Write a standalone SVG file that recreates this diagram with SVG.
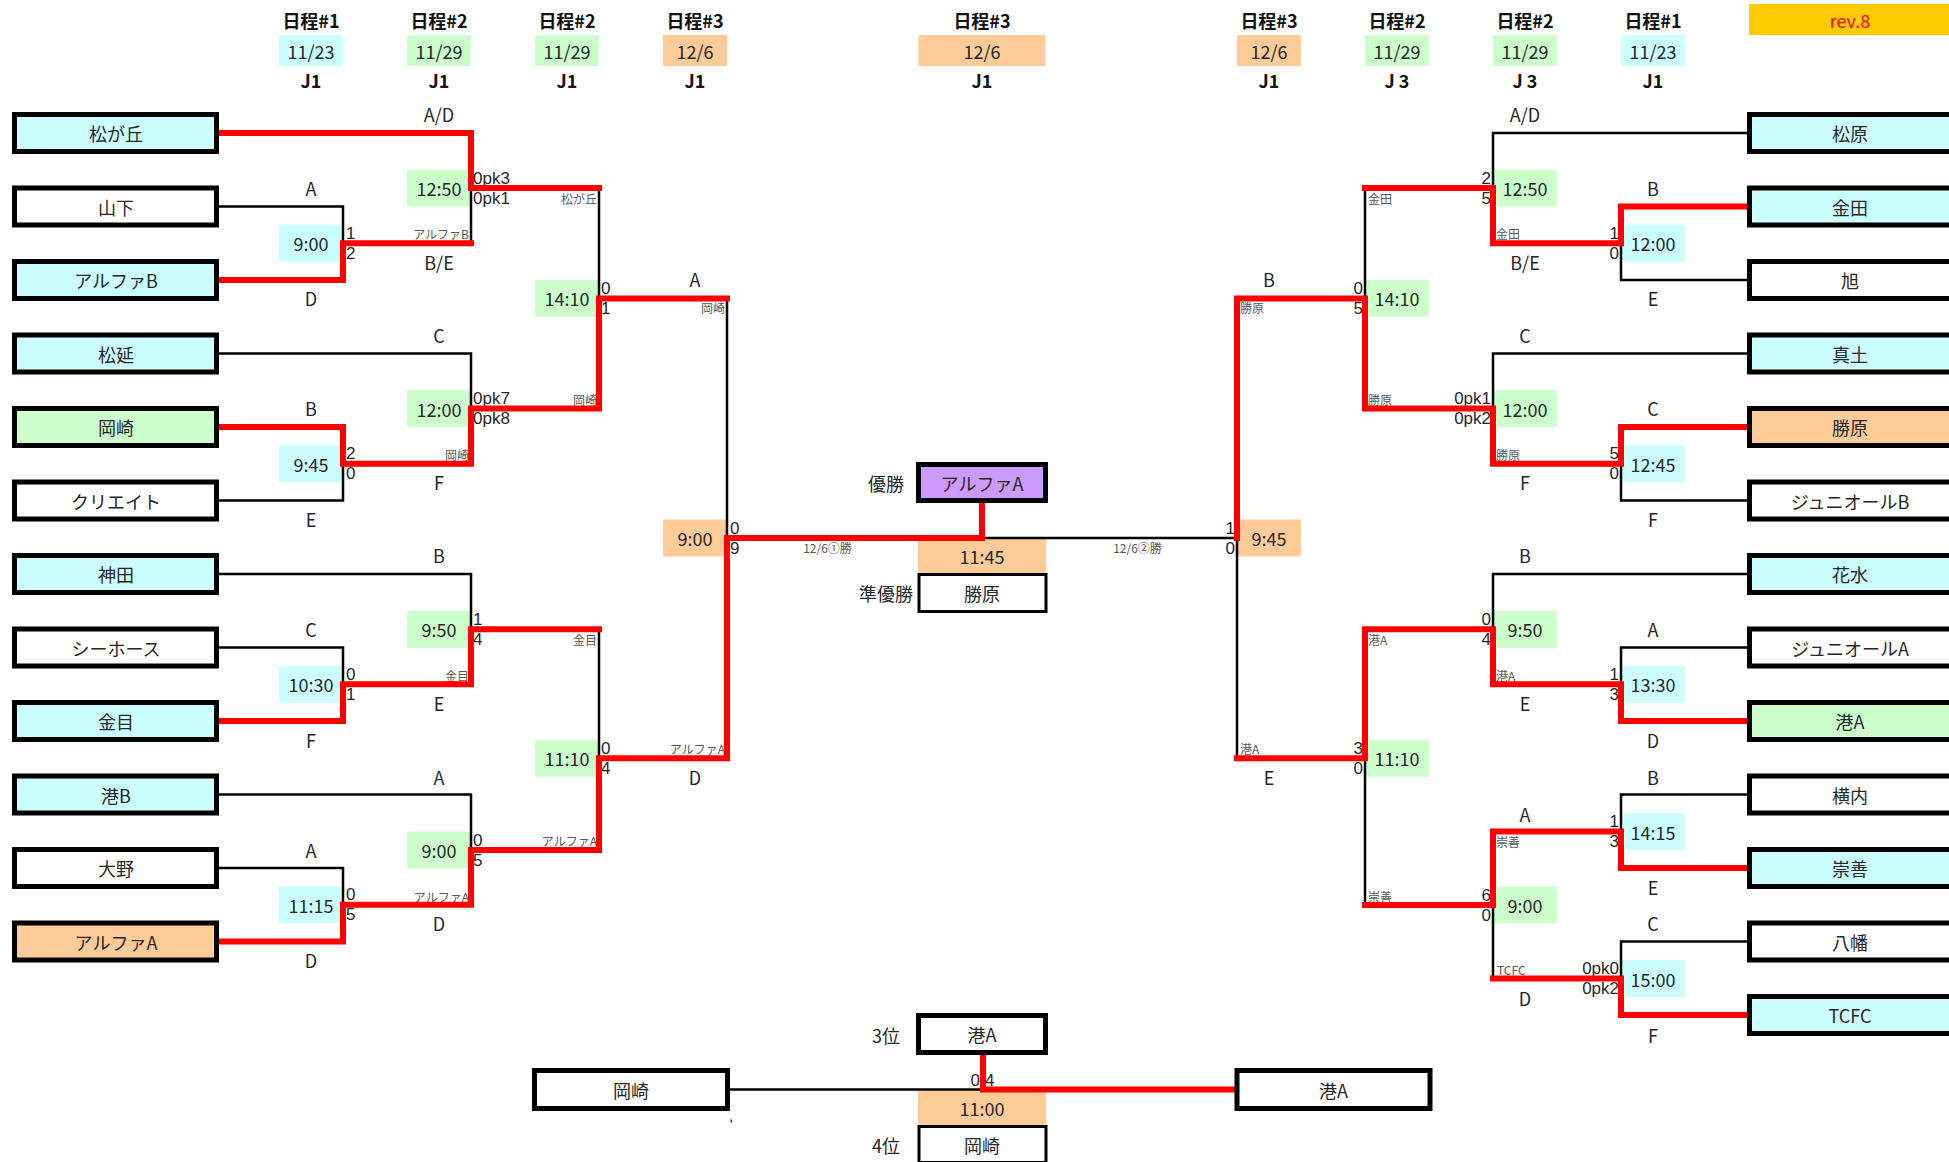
<svg xmlns="http://www.w3.org/2000/svg" width="1949" height="1162" viewBox="0 0 1949 1162">
<style>
text{font-family:"Noto Sans CJK JP","Noto Sans",sans-serif;font-size:18px;fill:#262626;dominant-baseline:central}
.m{text-anchor:middle}.e{text-anchor:end}
.b{font-weight:bold;fill:#111}
.s{font-size:12px;fill:#595959}
.sc{font-family:"Liberation Sans","Noto Sans",sans-serif;font-size:17px}
.r{fill:#FF0000}
.tb{stroke:#000;stroke-width:5}
.tn{stroke:#000;stroke-width:3}
.c{fill:#CCFFFF}.g{fill:#CCFFCC}.o{fill:#FFCC99}.w{fill:#FFFFFF}.p{fill:#CC99FF}.y{fill:#FFCC00}
.bk{fill:none;stroke:#000;stroke-width:2.5}
.rd{fill:none;stroke:#FF0000;stroke-width:6;stroke-linecap:square}
</style>
<rect width="1949" height="1162" fill="#fff"/>

<g id="header">
<text class="m b" x="311" y="19.5">日程#1</text>
<text class="m b" x="439" y="19.5">日程#2</text>
<text class="m b" x="567" y="19.5">日程#2</text>
<text class="m b" x="695" y="19.5">日程#3</text>
<text class="m b" x="982" y="19.5">日程#3</text>
<text class="m b" x="1269" y="19.5">日程#3</text>
<text class="m b" x="1397" y="19.5">日程#2</text>
<text class="m b" x="1525" y="19.5">日程#2</text>
<text class="m b" x="1653" y="19.5">日程#1</text>
<rect class="c" x="279" y="35" width="64" height="31"/>
<rect class="g" x="407" y="35" width="64" height="31"/>
<rect class="g" x="535" y="35" width="64" height="31"/>
<rect class="o" x="663" y="35" width="64" height="31"/>
<rect class="o" x="918.5" y="35" width="127" height="31"/>
<rect class="o" x="1237" y="35" width="64" height="31"/>
<rect class="g" x="1365" y="35" width="64" height="31"/>
<rect class="g" x="1493" y="35" width="64" height="31"/>
<rect class="c" x="1621" y="35" width="64" height="31"/>
<text class="m" x="311" y="50.5">11/23</text>
<text class="m" x="439" y="50.5">11/29</text>
<text class="m" x="567" y="50.5">11/29</text>
<text class="m" x="695" y="50.5">12/6</text>
<text class="m" x="982" y="50.5">12/6</text>
<text class="m" x="1269" y="50.5">12/6</text>
<text class="m" x="1397" y="50.5">11/29</text>
<text class="m" x="1525" y="50.5">11/29</text>
<text class="m" x="1653" y="50.5">11/23</text>
<text class="m b" x="311" y="80">J1</text>
<text class="m b" x="439" y="80">J1</text>
<text class="m b" x="567" y="80">J1</text>
<text class="m b" x="695" y="80">J1</text>
<text class="m b" x="982" y="80">J1</text>
<text class="m b" x="1269" y="80">J1</text>
<text class="m b" x="1397" y="80">J 3</text>
<text class="m b" x="1525" y="80">J 3</text>
<text class="m b" x="1653" y="80">J1</text>
<rect class="y" x="1749" y="4" width="200" height="31"/>
<text class="m r" x="1850" y="19.5">rev.8</text>
</g>

<g id="matches">
<g id="mL1"><rect class="c" x="279" y="224.75" width="64" height="37"/><text class="m" x="311" y="243.25">9:00</text><text class="sc" x="346" y="233.25">1</text><text class="sc" x="346" y="253.25">2</text><text class="s e" x="469" y="233">アルファB</text></g>
<g id="mL2"><rect class="c" x="279" y="445.25" width="64" height="37"/><text class="m" x="311" y="463.75">9:45</text><text class="sc" x="346" y="453.75">2</text><text class="sc" x="346" y="473.75">0</text><text class="s e" x="469" y="454">岡崎</text></g>
<g id="mL3"><rect class="c" x="279" y="665.75" width="64" height="37"/><text class="m" x="311" y="684.25">10:30</text><text class="sc" x="346" y="674.25">0</text><text class="sc" x="346" y="694.25">1</text><text class="s e" x="469" y="675.5">金目</text></g>
<g id="mL4"><rect class="c" x="279" y="886.25" width="64" height="37"/><text class="m" x="311" y="904.75">11:15</text><text class="sc" x="346" y="894.75">0</text><text class="sc" x="346" y="914.75">5</text><text class="s e" x="469" y="896.5">アルファA</text></g>
<g id="mL5"><rect class="g" x="407" y="169.5" width="64" height="37"/><text class="m" x="439" y="188">12:50</text><text class="sc" x="473" y="178">0pk3</text><text class="sc" x="473" y="198">0pk1</text><text class="s e" x="597" y="198">松が丘</text></g>
<g id="mL6"><rect class="g" x="407" y="390.1" width="64" height="37"/><text class="m" x="439" y="408.6">12:00</text><text class="sc" x="473" y="398.6">0pk7</text><text class="sc" x="473" y="418.6">0pk8</text><text class="s e" x="597" y="399">岡崎</text></g>
<g id="mL7"><rect class="g" x="407" y="610.8" width="64" height="37"/><text class="m" x="439" y="629.3">9:50</text><text class="sc" x="473" y="619.3">1</text><text class="sc" x="473" y="639.3">4</text><text class="s e" x="597" y="639">金目</text></g>
<g id="mL8"><rect class="g" x="407" y="831.5" width="64" height="37"/><text class="m" x="439" y="850">9:00</text><text class="sc" x="473" y="840">0</text><text class="sc" x="473" y="860">5</text><text class="s e" x="597" y="840.5">アルファA</text></g>
<g id="mL9"><rect class="g" x="535" y="279.9" width="64" height="37"/><text class="m" x="567" y="298.4">14:10</text><text class="sc" x="601" y="288.4">0</text><text class="sc" x="601" y="308.4">1</text><text class="s e" x="725" y="307.5">岡崎</text></g>
<g id="mL10"><rect class="g" x="535" y="739.8" width="64" height="37"/><text class="m" x="567" y="758.3">11:10</text><text class="sc" x="601" y="748.3">0</text><text class="sc" x="601" y="768.3">4</text><text class="s e" x="725" y="748.3">アルファA</text></g>
<g id="mL11"><rect class="o" x="663" y="519.5" width="64" height="37"/><text class="m" x="695" y="538">9:00</text><text class="sc" x="730" y="528">0</text><text class="sc" x="730" y="548">9</text><text class="s m" x="827.5" y="547">12/6①勝</text></g>

<g id="mR1"><rect class="c" x="1621" y="224.75" width="64" height="37"/><text class="m" x="1653" y="243.25">12:00</text><text class="sc e" x="1619" y="233.25">1</text><text class="sc e" x="1619" y="253.25">0</text><text class="s" x="1496" y="233.3">金田</text></g>
<g id="mR2"><rect class="c" x="1621" y="445.25" width="64" height="37"/><text class="m" x="1653" y="463.75">12:45</text><text class="sc e" x="1619" y="453.75">5</text><text class="sc e" x="1619" y="473.75">0</text><text class="s" x="1496" y="454.3">勝原</text></g>
<g id="mR3"><rect class="c" x="1621" y="665.75" width="64" height="37"/><text class="m" x="1653" y="684.25">13:30</text><text class="sc e" x="1619" y="674.25">1</text><text class="sc e" x="1619" y="694.25">3</text><text class="s" x="1496" y="675.5">港A</text></g>
<g id="mR4"><rect class="c" x="1621" y="813" width="64" height="37"/><text class="m" x="1653" y="831.5">14:15</text><text class="sc e" x="1619" y="821.5">1</text><text class="sc e" x="1619" y="841.5">3</text><text class="s" x="1496" y="841">崇善</text></g>
<g id="mR5"><rect class="c" x="1621" y="960" width="64" height="37"/><text class="m" x="1653" y="978.5">15:00</text><text class="sc e" x="1619" y="968.5">0pk0</text><text class="sc e" x="1619" y="988.5">0pk2</text><text class="s" x="1497" y="969.3">TCFC</text></g>
<g id="mR6"><rect class="g" x="1493" y="169.5" width="64" height="37"/><text class="m" x="1525" y="188">12:50</text><text class="sc e" x="1491" y="178">2</text><text class="sc e" x="1491" y="198">5</text><text class="s" x="1368" y="198">金田</text></g>
<g id="mR7"><rect class="g" x="1493" y="390.1" width="64" height="37"/><text class="m" x="1525" y="408.6">12:00</text><text class="sc e" x="1491" y="398.6">0pk1</text><text class="sc e" x="1491" y="418.6">0pk2</text><text class="s" x="1368" y="399">勝原</text></g>
<g id="mR8"><rect class="g" x="1493" y="610.8" width="64" height="37"/><text class="m" x="1525" y="629.3">9:50</text><text class="sc e" x="1491" y="619.3">0</text><text class="sc e" x="1491" y="639.3">4</text><text class="s" x="1368" y="639">港A</text></g>
<g id="mR9"><rect class="g" x="1493" y="886.5" width="64" height="37"/><text class="m" x="1525" y="905">9:00</text><text class="sc e" x="1491" y="895">6</text><text class="sc e" x="1491" y="915">0</text><text class="s" x="1368" y="896.5">崇善</text></g>
<g id="mR10"><rect class="g" x="1365" y="279.9" width="64" height="37"/><text class="m" x="1397" y="298.4">14:10</text><text class="sc e" x="1363" y="288.4">0</text><text class="sc e" x="1363" y="308.4">5</text><text class="s" x="1240" y="307.5">勝原</text></g>
<g id="mR11"><rect class="g" x="1365" y="739.8" width="64" height="37"/><text class="m" x="1397" y="758.3">11:10</text><text class="sc e" x="1363" y="748.3">3</text><text class="sc e" x="1363" y="768.3">0</text><text class="s" x="1240" y="748.3">港A</text></g>
<g id="mR12"><rect class="o" x="1237" y="519.5" width="64" height="37"/><text class="m" x="1269" y="538">9:45</text><text class="sc e" x="1235" y="528">1</text><text class="sc e" x="1235" y="548">0</text><text class="s m" x="1137.5" y="547">12/6②勝</text></g>

<g id="mFinal"><rect class="o" x="918" y="538" width="128" height="35.5"/><text class="m" x="982" y="556">11:45</text></g>
<g id="m3rd"><rect class="o" x="918" y="1090" width="128" height="35"/><text class="m" x="982" y="1107.5">11:00</text><text class="sc e" x="980" y="1080">0</text><text class="sc" x="985" y="1080">4</text></g>
</g>

<g id="slot-labels">
<text class="m" x="439" y="114.3">A/D</text>
<text class="m" x="311" y="187.7">A</text>
<text class="m" x="439" y="261.7">B/E</text>
<text class="m" x="311" y="298">D</text>
<text class="m" x="439" y="335.3">C</text>
<text class="m" x="311" y="408.3">B</text>
<text class="m" x="439" y="481.7">F</text>
<text class="m" x="311" y="519.3">E</text>
<text class="m" x="695" y="279">A</text>
<text class="m" x="439" y="554.8">B</text>
<text class="m" x="311" y="629.3">C</text>
<text class="m" x="439" y="703.3">E</text>
<text class="m" x="311" y="740">F</text>
<text class="m" x="695" y="776.7">D</text>
<text class="m" x="439" y="776.7">A</text>
<text class="m" x="311" y="850">A</text>
<text class="m" x="439" y="923.3">D</text>
<text class="m" x="311" y="960">D</text>
<text class="m" x="1525" y="114.3">A/D</text>
<text class="m" x="1653" y="187.7">B</text>
<text class="m" x="1525" y="261.7">B/E</text>
<text class="m" x="1653" y="298">E</text>
<text class="m" x="1269" y="279.3">B</text>
<text class="m" x="1525" y="335.3">C</text>
<text class="m" x="1653" y="408.3">C</text>
<text class="m" x="1525" y="481.7">F</text>
<text class="m" x="1653" y="519.3">F</text>
<text class="m" x="1525" y="554.8">B</text>
<text class="m" x="1653" y="629.3">A</text>
<text class="m" x="1525" y="703.3">E</text>
<text class="m" x="1653" y="740">D</text>
<text class="m" x="1269" y="776.7">E</text>
<text class="m" x="1653" y="776.7">B</text>
<text class="m" x="1525" y="813.5">A</text>
<text class="m" x="1653" y="887.3">E</text>
<text class="m" x="1653" y="923.3">C</text>
<text class="m" x="1525" y="998.3">D</text>
<text class="m" x="1653" y="1035">F</text>
<text class="m" x="886" y="483">優勝</text>
<text class="m" x="886" y="593">準優勝</text>
<text class="m" x="886" y="1035">3位</text>
<text class="m" x="886" y="1145">4位</text>
</g>

<g id="connectors">
<path class="bk" d="M219 206.5H343V243.25M219 353.5H471V408.6M219 500.5H343V463.75M219 574H471V629.3M219 647.5H343V684.25M219 794.5H471V850M219 868H343V904.75M471 188V243.25M599 188V298.4M599 629.3V758.3M727 298.4V538M982 538H1237"/>
<path class="bk" d="M1749 133H1493V188M1749 280H1621V243.25M1749 353.5H1493V408.6M1749 500.5H1621V463.75M1749 574H1493V629.3M1749 647.5H1621V684.25M1749 794.5H1621V831.5M1749 941.5H1621V978.5M1365 188V298.4M1365 758.3V905M1493 905V978.5M1237 538V758.3M730 1089.5H983"/>
<path class="rd" d="M219 133H471V188H599"/>
<path class="rd" d="M219 280H343V243.25H471"/>
<path class="rd" d="M219 427H343V463.75H471V408.6H599V298.4H727"/>
<path class="rd" d="M219 721H343V684.25H471V629.3H599"/>
<path class="rd" d="M219 941.5H343V904.75H471V850H599V758.3H727V538H982V503"/>
<path class="rd" d="M1749 206.5H1621V243.25H1493V188H1365"/>
<path class="rd" d="M1749 427H1621V463.75H1493V408.6H1365V298.4H1237V538"/>
<path class="rd" d="M1749 721H1621V684.25H1493V629.3H1365V758.3H1237"/>
<path class="rd" d="M1749 868H1621V831.5H1493V905H1365"/>
<path class="rd" d="M1749 1015H1621V978.5H1493"/>
<path class="rd" d="M1235 1089.5H983V1055"/>
</g>

<g id="teams-left">
<g id="tL0"><rect class="tb c" x="14.5" y="114.5" width="202" height="37"/><text class="m" x="116" y="133">松が丘</text></g>
<g id="tL1"><rect class="tb w" x="14.5" y="188" width="202" height="37"/><text class="m" x="116" y="206.5">山下</text></g>
<g id="tL2"><rect class="tb c" x="14.5" y="261.5" width="202" height="37"/><text class="m" x="116" y="280">アルファB</text></g>
<g id="tL3"><rect class="tb c" x="14.5" y="335" width="202" height="37"/><text class="m" x="116" y="353.5">松延</text></g>
<g id="tL4"><rect class="tb g" x="14.5" y="408.5" width="202" height="37"/><text class="m" x="116" y="427">岡崎</text></g>
<g id="tL5"><rect class="tb w" x="14.5" y="482" width="202" height="37"/><text class="m" x="116" y="500.5">クリエイト</text></g>
<g id="tL6"><rect class="tb c" x="14.5" y="555.5" width="202" height="37"/><text class="m" x="116" y="574">神田</text></g>
<g id="tL7"><rect class="tb w" x="14.5" y="629" width="202" height="37"/><text class="m" x="116" y="647.5">シーホース</text></g>
<g id="tL8"><rect class="tb c" x="14.5" y="702.5" width="202" height="37"/><text class="m" x="116" y="721">金目</text></g>
<g id="tL9"><rect class="tb c" x="14.5" y="776" width="202" height="37"/><text class="m" x="116" y="794.5">港B</text></g>
<g id="tL10"><rect class="tb w" x="14.5" y="849.5" width="202" height="37"/><text class="m" x="116" y="868">大野</text></g>
<g id="tL11"><rect class="tb o" x="14.5" y="923" width="202" height="37"/><text class="m" x="116" y="941.5">アルファA</text></g>
</g>

<g id="teams-right">
<g id="tR0"><rect class="tb c" x="1749.5" y="114.5" width="230" height="37"/><text class="m" x="1850" y="133">松原</text></g>
<g id="tR1"><rect class="tb c" x="1749.5" y="188" width="230" height="37"/><text class="m" x="1850" y="206.5">金田</text></g>
<g id="tR2"><rect class="tb w" x="1749.5" y="261.5" width="230" height="37"/><text class="m" x="1850" y="280">旭</text></g>
<g id="tR3"><rect class="tb c" x="1749.5" y="335" width="230" height="37"/><text class="m" x="1850" y="353.5">真土</text></g>
<g id="tR4"><rect class="tb o" x="1749.5" y="408.5" width="230" height="37"/><text class="m" x="1850" y="427">勝原</text></g>
<g id="tR5"><rect class="tb w" x="1749.5" y="482" width="230" height="37"/><text class="m" x="1850" y="500.5">ジュニオールB</text></g>
<g id="tR6"><rect class="tb c" x="1749.5" y="555.5" width="230" height="37"/><text class="m" x="1850" y="574">花水</text></g>
<g id="tR7"><rect class="tb w" x="1749.5" y="629" width="230" height="37"/><text class="m" x="1850" y="647.5">ジュニオールA</text></g>
<g id="tR8"><rect class="tb g" x="1749.5" y="702.5" width="230" height="37"/><text class="m" x="1850" y="721">港A</text></g>
<g id="tR9"><rect class="tb w" x="1749.5" y="776" width="230" height="37"/><text class="m" x="1850" y="794.5">横内</text></g>
<g id="tR10"><rect class="tb c" x="1749.5" y="849.5" width="230" height="37"/><text class="m" x="1850" y="868">崇善</text></g>
<g id="tR11"><rect class="tb w" x="1749.5" y="923" width="230" height="37"/><text class="m" x="1850" y="941.5">八幡</text></g>
<g id="tR12"><rect class="tb c" x="1749.5" y="996.5" width="230" height="37"/><text class="m" x="1850" y="1015">TCFC</text></g>
</g>

<g id="results">
<g id="champion"><rect class="tb p" x="918.5" y="464.5" width="127" height="36"/><text class="m" x="982" y="482.5">アルファA</text></g>
<g id="runnerup"><rect class="tn w" x="919" y="574.5" width="127" height="37"/><text class="m" x="982" y="593">勝原</text></g>
<g id="third"><rect class="tb w" x="918.5" y="1015.5" width="127" height="37"/><text class="m" x="982" y="1034">港A</text></g>
<g id="fourth"><rect class="tn w" x="919" y="1126.5" width="127" height="36"/><text class="m" x="982" y="1145">岡崎</text></g>
<g id="p3L"><rect class="tb w" x="534.5" y="1070.5" width="193" height="38"/><text class="m" x="631" y="1089.5">岡崎</text></g>
<g id="p3R"><rect class="tb w" x="1237" y="1070.5" width="193" height="38"/><text class="m" x="1333.5" y="1089.5">港A</text></g>
<rect x="730.5" y="1119.5" width="1.5" height="3" fill="#333"/>
</g>
</svg>
